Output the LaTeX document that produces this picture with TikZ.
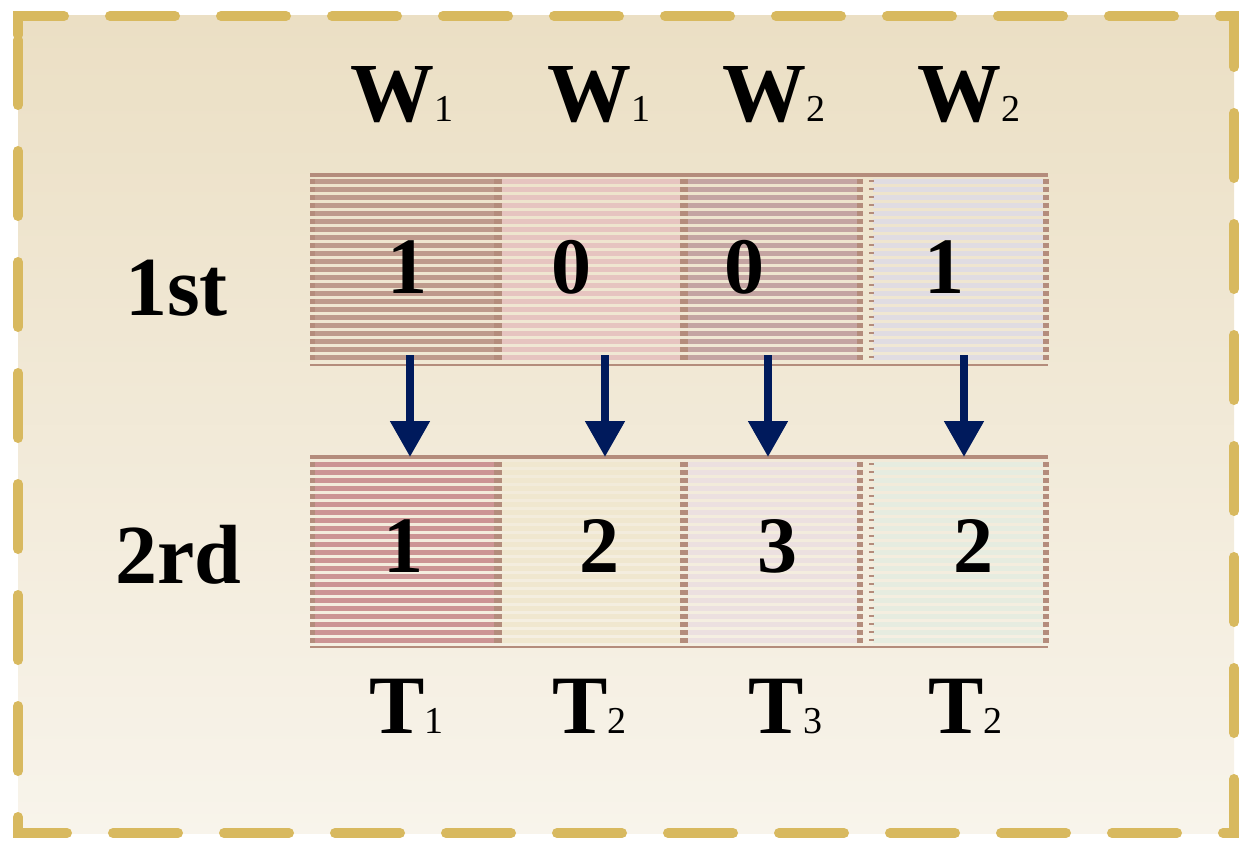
\documentclass[tikz,border=0pt]{standalone}
\usepackage{fontspec}
\setmainfont{Liberation Serif}
\usetikzlibrary{arrows.meta}
\definecolor{brd}{HTML}{D8B95F}
\definecolor{bgtop}{HTML}{EBDFC4}
\definecolor{bgbot}{HTML}{F8F4EB}
\definecolor{cline}{HTML}{B48C7C}
\definecolor{sA}{HTML}{BE9A8C}
\definecolor{sB}{HTML}{E6C4C0}
\definecolor{sC}{HTML}{C4A4A2}
\definecolor{sD}{HTML}{E0DCE2}
\definecolor{tA}{HTML}{CC9494}
\definecolor{tB}{HTML}{F0E7CF}
\definecolor{tC}{HTML}{ECE0E0}
\definecolor{tD}{HTML}{E6ECE0}
\definecolor{navy}{HTML}{001A5C}
\tikzset{
  bigtxt/.style={inner sep=0pt, anchor=base west, font=\fontsize{84}{84}\selectfont\bfseries},
  numtxt/.style={inner sep=0pt, anchor=base, font=\fontsize{80}{80}\selectfont\bfseries},
  ttxt/.style={inner sep=0pt, anchor=base west, font=\fontsize{83}{83}\selectfont\bfseries},
  stripes/.style={line width=#1, dash pattern=on 4.5pt off 3.5pt},
  marks/.style={cline, line width=#1, dash pattern=on 4.5pt off 3.5pt},
  arr/.style={navy, line width=8pt, -{Triangle[width=38pt,length=36pt]}},
}
\newcommand{\subn}[1]{{\fontsize{38}{38}\selectfont\mdseries #1}}
\begin{document}
\begin{tikzpicture}[x=1pt,y=-1pt]
\useasboundingbox (0,0) rectangle (1256,856);
\shade[top color=bgtop,bottom color=bgbot] (18,16) rectangle (1234,833);
\draw[brd, line width=10pt, line cap=round, dash pattern=on 65pt off 46pt]
  (18,35) -- (18,16) -- (1234,16) -- (1234,833) -- (18,833) -- cycle;

% row 1 stripes
\draw[sA, stripes=184pt] (404,179) -- (404,363);
\draw[sB, stripes=178pt] (591,179) -- (591,363);
\draw[sC, stripes=170pt] (772,179) -- (772,363);
\draw[sD, stripes=170pt] (958,179) -- (958,363);
% row 1 marks
\draw[marks=5pt] (312.5,179) -- (312.5,363);
\draw[marks=8pt] (498,179) -- (498,363);
\draw[marks=8pt] (684,179) -- (684,363);
\draw[marks=6pt] (860,179) -- (860,363);
\draw[marks=5pt, dash pattern=on 2pt off 6pt] (871.5,180) -- (871.5,363);
\draw[marks=6pt] (1046,179) -- (1046,363);
\draw[cline, line width=4pt] (310,175) -- (1048,175);
\draw[cline, line width=1.5pt] (310,365) -- (1048,365);

% row 2 stripes
\draw[tA, stripes=184pt] (404,462) -- (404,644);
\draw[tB, stripes=178pt] (591,462) -- (591,644);
\draw[tC, stripes=170pt] (772,462) -- (772,644);
\draw[tD, stripes=170pt] (958,462) -- (958,644);
\draw[marks=5pt] (312.5,462) -- (312.5,644);
\draw[marks=8pt] (498,462) -- (498,644);
\draw[marks=8pt] (684,462) -- (684,644);
\draw[marks=6pt] (860,462) -- (860,644);
\draw[marks=5pt, dash pattern=on 2pt off 6pt] (871.5,463) -- (871.5,644);
\draw[marks=6pt] (1046,462) -- (1046,644);
\draw[cline, line width=4pt] (310,457) -- (1048,457);
\draw[cline, line width=1.5pt] (310,647) -- (1048,647);

% column headers
\node[bigtxt] (w1) at (350,122) {W\subn{1}};
\node[bigtxt] (w2) at (547,122) {W\subn{1}};
\node[bigtxt] (w3) at (722,122) {W\subn{2}};
\node[bigtxt] (w4) at (917,122) {W\subn{2}};

% row labels
\node[bigtxt] (r1) at (125,315) {1st};
\node[bigtxt] (r2) at (115,583) {2rd};

% numbers
\node[numtxt] (n11) at (407,293) {1};
\node[numtxt] (n12) at (571,293) {0};
\node[numtxt] (n13) at (744,293) {0};
\node[numtxt] (n14) at (944,293) {1};
\node[numtxt] (n21) at (403,572) {1};
\node[numtxt] (n22) at (599,572) {2};
\node[numtxt] (n23) at (777,572) {3};
\node[numtxt] (n24) at (973,572) {2};

% arrows
\foreach \i/\x in {1/410,2/605,3/768,4/964}{
  \coordinate (a\i) at (\x,355);
  \coordinate (b\i) at (\x,457);
  \draw[arr] (a\i) -- (b\i);
}

% bottom labels
\node[ttxt] (t1) at (369,733) {T\subn{1}};
\node[ttxt] (t2) at (552,733) {T\subn{2}};
\node[ttxt] (t3) at (748,733) {T\subn{3}};
\node[ttxt] (t4) at (928,733) {T\subn{2}};
\end{tikzpicture}
\end{document}
